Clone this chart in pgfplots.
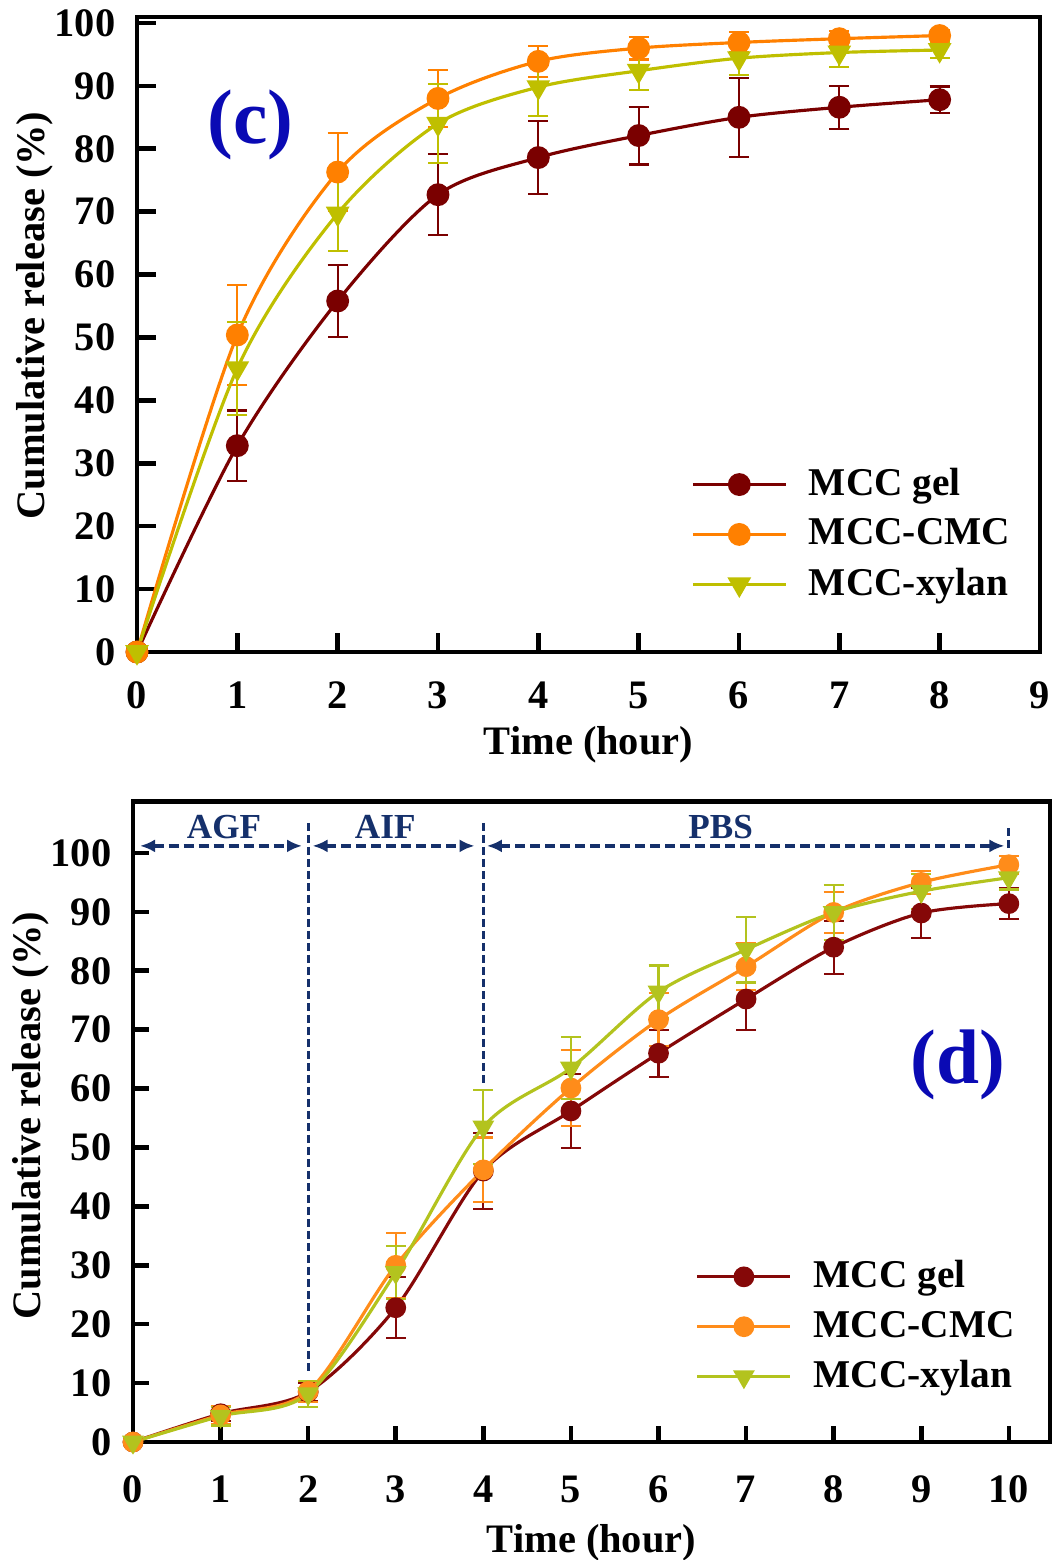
\documentclass[border=0pt]{standalone}
\usepackage{fontspec}
\setmainfont{Liberation Serif}
\usepackage{pgfplots}
\pgfplotsset{compat=1.18}
\usetikzlibrary{arrows.meta}

\definecolor{cgel}{HTML}{7A0000}
\definecolor{ccmc}{HTML}{FF8000}
\definecolor{cxyl}{HTML}{BFBF00}
\definecolor{dgel}{HTML}{850808}
\definecolor{dcmc}{HTML}{FF8C1A}
\definecolor{dxyl}{HTML}{B3C31E}
\definecolor{phase}{HTML}{15306B}
\definecolor{panel}{HTML}{0A0AB4}

\pgfplotsset{
  relbase/.style={
    scale only axis,
    clip=false,
    axis line style={line width=1.3pt},
    tick align=inside,
    xtick pos=bottom, ytick pos=left,
    major tick style={line width=1.3pt, black},
    tick label style={font=\fontsize{11.5}{13}\selectfont\bfseries},
    /pgf/number format/assume math mode=true,
    label style={font=\fontsize{11.5}{13}\selectfont\bfseries},
    yticklabel style={anchor=east, inner sep=0pt, xshift=-2.1mm},
    xticklabel style={anchor=base, inner sep=0pt},
    ytick={0,10,...,100},
    ymin=0,
    xlabel={Time (hour)},
    ylabel={Cumulative release (\%)},
    legend cell align=left,
    legend style={draw=none, fill=none, inner sep=0pt, row sep=3.1pt,
      font=\fontsize{11.2}{13}\selectfont\bfseries,
      nodes={inner sep=1pt}},
    /tikz/every odd column/.append style={column sep=1.8mm},
    legend image code/.code={\draw[mark repeat=2, mark phase=2]
      plot coordinates {(0mm,0mm) (4.65mm,0mm) (9.3mm,0mm)};},
  },
  rel/.style n args={3}{color=#1, line width=0.9pt, mark=#2, smooth, tension=0.5,
    mark options={solid, fill=#1, #3},
    error bars/.cd, y dir=both, y explicit,
    error bar style={line width=0.6pt, #1},
    error mark options={rotate=90, mark size=1mm, line width=0.6pt, #1}},
}

\begin{document}
\begin{tikzpicture}
\useasboundingbox (0,0) rectangle (105.4mm,-156mm);

% panel (c)
\begin{axis}[relbase,
  at={(13.7mm,-65.2mm)}, anchor=south west,
  width=90.3mm, height=63.5mm,
  xmin=0, xmax=9, ymax=100.95,
  xtick={0,...,9},
  major tick length=1.9mm,
  xticklabel style={yshift=-5.6mm},
  xlabel style={at={(axis description cs:0.5,-0.146)}, anchor=center},
  ylabel style={at={(axis description cs:-0.113,0.53)}, anchor=center},
  legend style={at={(rel axis cs:0.613,0.296)}, anchor=north west},
]
\addplot[mark size=2.8pt, rel={cgel}{*}{}] coordinates {
  (0,0) +- (0,0) (1,32.8) +- (0,5.6) (2,55.8) +- (0,5.7) (3,72.7) +- (0,6.4)
  (4,78.6) +- (0,5.8) (5,82.1) +- (0,4.6) (6,85.0) +- (0,6.3) (7,86.6) +- (0,3.4)
  (8,87.8) +- (0,2.1)};
\addplot[mark size=2.8pt, rel={ccmc}{*}{}] coordinates {
  (0,0) +- (0,0) (1,50.4) +- (0,7.9) (2,76.3) +- (0,6.2) (3,88.0) +- (0,4.5)
  (4,93.9) +- (0,2.5) (5,96.0) +- (0,1.8) (6,96.9) +- (0,1.6) (7,97.5) +- (0,1.2)
  (8,98.0) +- (0,0.9)};
\addplot[mark size=3pt, rel={cxyl}{triangle*}{rotate=180}] coordinates {
  (0,0) +- (0,0) (1,45.1) +- (0,7.4) (2,69.7) +- (0,5.9) (3,84.0) +- (0,6.3)
  (4,89.8) +- (0,4.6) (5,92.4) +- (0,3.1) (6,94.4) +- (0,2.7) (7,95.3) +- (0,2.3)
  (8,95.7) +- (0,1.3)};
\legend{MCC gel\vphantom{g}, MCC-CMC\vphantom{g}, MCC-xylan}
\node[text=panel, font=\fontsize{22}{24}\selectfont\bfseries] at (axis cs:1.13,83.8) {(c)};
\end{axis}

% panel (d)
\begin{axis}[relbase,
  at={(13.3mm,-144.2mm)}, anchor=south west,
  width=91.7mm, height=64.03mm,
  xmin=0, xmax=10.47, ymax=108.7,
  xtick={0,...,10},
  major tick length=1.6mm,
  xticklabel style={yshift=-6mm},
  xlabel style={at={(axis description cs:0.5,-0.158)}, anchor=center},
  ylabel style={at={(axis description cs:-0.112,0.51)}, anchor=center},
  legend style={at={(rel axis cs:0.613,0.29)}, anchor=north west},
]
\addplot[mark size=2.5pt, rel={dgel}{*}{}] coordinates {
  (0,0) +- (0,0) (1,4.8) +- (0,1.2) (2,8.5) +- (0,1.5) (3,22.8) +- (0,5.2)
  (4,46.0) +- (0,6.5) (5,56.2) +- (0,6.3) (6,66.0) +- (0,4.0) (7,75.2) +- (0,5.3)
  (8,84.0) +- (0,4.5) (9,89.8) +- (0,4.3) (10,91.4) +- (0,2.6)};
\addplot[mark size=2.5pt, rel={dcmc}{*}{}] coordinates {
  (0,0) +- (0,0) (1,4.6) +- (0,1.5) (2,8.6) +- (0,1.8) (3,30.0) +- (0,5.5)
  (4,46.2) +- (0,5.5) (5,60.1) +- (0,6.5) (6,71.7) +- (0,4.5) (7,80.7) +- (0,4.0)
  (8,89.9) +- (0,3.5) (9,95.0) +- (0,2.0) (10,98.0) +- (0,1.5)};
\addplot[mark size=2.7pt, rel={dxyl}{triangle*}{rotate=180}] coordinates {
  (0,0) +- (0,0) (1,4.4) +- (0,1.6) (2,8.2) +- (0,2.2) (3,28.8) +- (0,4.5)
  (4,53.5) +- (0,6.3) (5,63.5) +- (0,5.2) (6,76.4) +- (0,4.5) (7,83.6) +- (0,5.6)
  (8,89.9) +- (0,4.7) (9,93.5) +- (0,3.0) (10,95.8) +- (0,2.0)};
\legend{MCC gel\vphantom{g}, MCC-CMC\vphantom{g}, MCC-xylan}
% medium phases
\begin{scope}[phase, line width=1.1pt, dash pattern=on 1mm off 0.5mm]
  \draw[{Latex[length=1.5mm,width=1.3mm]}-{Latex[length=1.5mm,width=1.3mm]}] (axis cs:0.08,101.2) -- (axis cs:1.93,101.2);
  \draw[{Latex[length=1.5mm,width=1.3mm]}-{Latex[length=1.5mm,width=1.3mm]}] (axis cs:2.05,101.2) -- (axis cs:3.90,101.2);
  \draw[{Latex[length=1.5mm,width=1.3mm]}-{Latex[length=1.5mm,width=1.3mm]}] (axis cs:4.04,101.2) -- (axis cs:9.95,101.2);
\end{scope}
\begin{scope}[phase, line width=0.9pt, dash pattern=on 0.8mm off 0.4mm]
  \draw (axis cs:2,105.1) -- (axis cs:2,11.9);
  \draw (axis cs:4,105.1) -- (axis cs:4,60.6);
  \draw (axis cs:10,104.2) -- (axis cs:10,100.5);
\end{scope}
\begin{scope}[font=\fontsize{10}{12}\selectfont\bfseries, text=phase]
  \node at (axis cs:1.04,104.4) {AGF};
  \node at (axis cs:2.88,104.4) {AIF};
  \node at (axis cs:6.71,104.4) {PBS};
\end{scope}
\node[text=panel, font=\fontsize{22}{24}\selectfont\bfseries] at (axis cs:9.42,64.0) {(d)};
\end{axis}
\end{tikzpicture}
\end{document}
